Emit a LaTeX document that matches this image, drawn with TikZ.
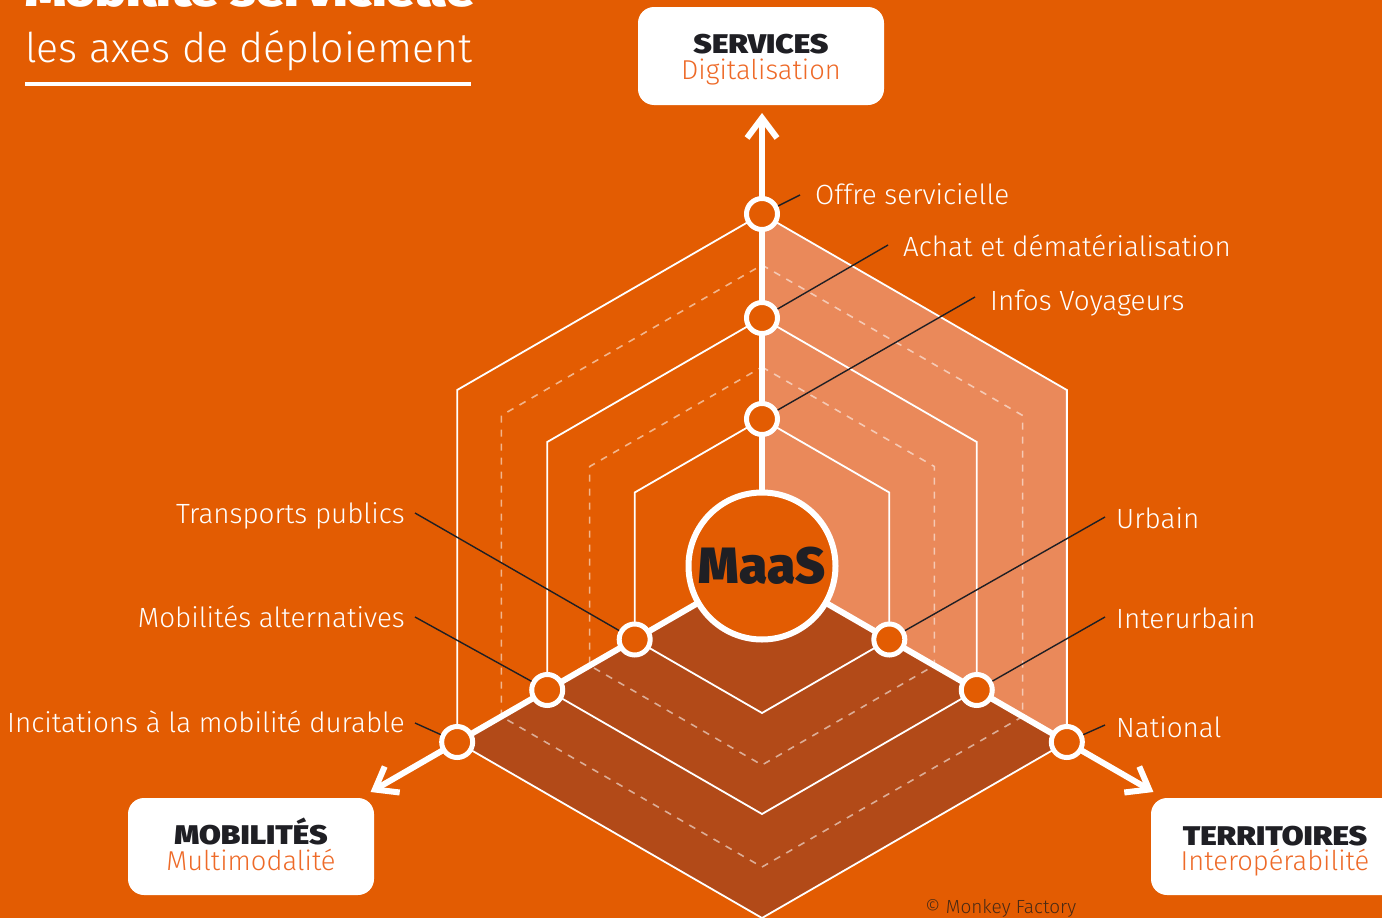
\documentclass[tikz,border=0pt]{standalone}
\usepackage{fontspec}
\IfFontExistsTF{Fira Sans Light}{\setmainfont{Fira Sans Light}}{\setmainfont{Fira Sans}}
\IfFontExistsTF{Fira Sans Black}{\newfontfamily\heavyf{Fira Sans Black}\newfontfamily\heavyw{Fira Sans Black}[FakeStretch=1.17]}{%
  \IfFontExistsTF{Fira Sans Heavy}{\newfontfamily\heavyf{Fira Sans Heavy}\newfontfamily\heavyw{Fira Sans Heavy}[FakeStretch=1.17]}{\newfontfamily\heavyf{Fira Sans Bold}\newfontfamily\heavyw{Fira Sans Bold}[FakeStretch=1.17]}}
\usetikzlibrary{arrows.meta}
\definecolor{bg}{HTML}{E35C02}
\definecolor{lightsec}{HTML}{EA895A}
\definecolor{darksec}{HTML}{B24A18}
\definecolor{ink}{HTML}{1F1F24}
\definecolor{suborange}{HTML}{EE6A28}
\definecolor{copyc}{HTML}{4A2A14}
\begin{document}
\begin{tikzpicture}[x=1pt,y=-1pt,
  solidhex/.style={white, line width=1.8pt, line join=miter},
  dashhex/.style={white, opacity=0.55, line width=1.6pt, dash pattern=on 7pt off 7pt},
  axisline/.style={white, line width=6pt, -{Straight Barb[length=20pt,width=30pt]}},
  dot/.style={circle, fill=bg, draw=white, line width=5pt, minimum size=31pt, inner sep=0pt},
  leader/.style={ink, line width=1.4pt},
  lab/.style={text=white, font=\fontsize{27.8}{30}\selectfont, inner sep=0pt},
  boxw/.style={fill=white, rounded corners=16pt},
  headt/.style={text=ink, font=\heavyw\fontsize{27}{29}\selectfont, inner sep=0pt, anchor=base},
  subt/.style={text=suborange, font=\fontsize{27.3}{29}\selectfont, inner sep=0pt, anchor=base}
]
\useasboundingbox (0,0) rectangle (1382,918);
\fill[bg] (0,0) rectangle (1382,918);

\begin{scope}[shift={(762,566)}]
  \fill[lightsec] (0,0) -- (-90:352) -- (-30:352) -- (30:352) -- cycle;
  \fill[darksec] (0,0) -- (30:352) -- (90:352) -- (150:352) -- cycle;
  \foreach \r in {199,301}
    \draw[dashhex] (-90:\r) -- (-30:\r) -- (30:\r) -- (90:\r) -- (150:\r) -- (210:\r) -- cycle;
  \foreach \r in {147,248,352}
    \draw[solidhex] (-90:\r) -- (-30:\r) -- (30:\r) -- (90:\r) -- (150:\r) -- (210:\r) -- cycle;
  \coordinate (c0) at (0,0);
  \coordinate (tipS) at (-90:453);
  \coordinate (tipT) at (30:452);
  \coordinate (tipM) at (150:452);
  \draw[axisline] (c0) -- (tipS);
  \draw[axisline] (c0) -- (tipT);
  \draw[axisline] (c0) -- (tipM);
  \node[dot] (s1) at (-90:147) {};
  \node[dot] (s2) at (-90:248) {};
  \node[dot] (s3) at (-90:352) {};
  \node[dot] (t1) at (30:147) {};
  \node[dot] (t2) at (30:248) {};
  \node[dot] (t3) at (30:352) {};
  \node[dot] (m1) at (150:147) {};
  \node[dot] (m2) at (150:248) {};
  \node[dot] (m3) at (150:352) {};
\end{scope}

% leader ends
\coordinate (ls3) at (800,195);
\coordinate (ls2) at (888,245);
\coordinate (ls1) at (975,297);
\coordinate (lm1) at (415,513);
\coordinate (lm2) at (415,617);
\coordinate (lm3) at (415,723);
\coordinate (lt1) at (1105,517);
\coordinate (lt2) at (1105,617);
\coordinate (lt3) at (1105,725);
\draw[leader] (ls3) -- (s3);
\draw[leader] (ls2) -- (s2);
\draw[leader] (ls1) -- (s1);
\draw[leader] (lm1) -- (m1);
\draw[leader] (lm2) -- (m2);
\draw[leader] (lm3) -- (m3);
\draw[leader] (lt1) -- (t1);
\draw[leader] (lt2) -- (t2);
\draw[leader] (lt3) -- (t3);

\node[circle, fill=bg, draw=white, line width=6pt, minimum size=147pt, inner sep=0pt,
  text=ink, font=\heavyf\fontsize{51}{51}\selectfont] (maas) at (762,566) {MaaS};

% labels
\node[lab, anchor=base west] (lbs3) at (815,204) {Offre servicielle};
\node[lab, anchor=base west] (lbs2) at (903,256) {Achat et dématérialisation};
\node[lab, anchor=base west] (lbs1) at (990,310) {Infos Voyageurs};
\node[lab, anchor=base east] (lbm1) at (405,523) {Transports publics};
\node[lab, anchor=base east] (lbm2) at (405,627) {Mobilités alternatives};
\node[lab, anchor=base east] (lbm3) at (405,732) {Incitations à la mobilité durable};
\node[lab, anchor=base west] (lbt1) at (1116,528) {Urbain};
\node[lab, anchor=base west] (lbt2) at (1116,628) {Interurbain};
\node[lab, anchor=base west] (lbt3) at (1116,737) {National};

% boxes
\fill[boxw] (638,7) rectangle (884,105);
\node[headt] (hs) at (761,53) {SERVICES};
\node[subt] (ss) at (761,79) {Digitalisation};
\fill[boxw] (128,798) rectangle (374,895);
\node[headt] (hm) at (251,844) {MOBILITÉS};
\node[subt] (sm) at (251,870) {Multimodalité};
\fill[boxw] (1151,798) rectangle (1430,895);
\node[headt] (ht) at (1275,845) {TERRITOIRES};
\node[subt] (st) at (1275,870) {Interopérabilité};

% title
\node[text=white, font=\heavyw\fontsize{44}{48}\selectfont, inner sep=0pt, anchor=base west] (title1) at (25,6) {Mobilité servicielle};
\node[text=white, font=\fontsize{41}{46}\selectfont, inner sep=0pt, anchor=base west] (title2) at (25,62) {les axes de déploiement};
\draw[white, line width=3.5pt] (25,84) -- (471,84);

\node[text=copyc, font=\fontsize{19}{20}\selectfont, inner sep=0pt, anchor=base west] (cpy) at (925,913) {© Monkey Factory};
\end{tikzpicture}
\end{document}
